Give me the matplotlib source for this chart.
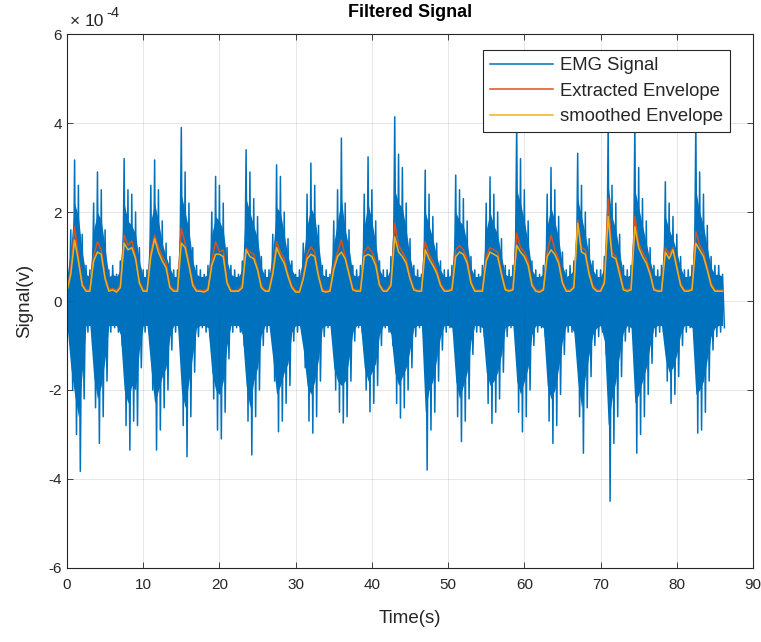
import numpy as np
import matplotlib.pyplot as plt
from matplotlib.ticker import FuncFormatter

plt.rcParams['font.family'] = ['Liberation Sans', 'DejaVu Sans']
plt.rcParams['axes.unicode_minus'] = False

# time grid of the binned record (s), 0.5 s per bin
t = np.arange(0, 86.01, 0.5)

# EMG extremes per bin (x1e-4 V)
emg_top = [
    0.6, 1.6, 3.17, 2.6, 1.5, 0.8, 0.7, 2.2, 2.9, 2.5,
    1.6, 0.7, 0.8, 0.6, 0.9, 3.2, 2.5, 2.4, 2.0, 1.2,
    0.7, 0.7, 2.6, 3.17, 2.5, 1.8, 1.3, 1.0, 0.7, 0.7,
    3.9, 2.9, 2.2, 1.2, 0.8, 0.7, 0.6, 0.8, 2.0, 2.8,
    2.6, 2.2, 1.2, 0.8, 0.7, 0.6, 0.9, 3.4, 2.9, 2.3,
    1.9, 1.0, 0.7, 0.7, 1.5, 3.06, 2.8, 2.0, 1.4, 0.9,
    0.6, 0.7, 1.3, 2.4, 3.1, 2.6, 1.7, 0.8, 0.7, 0.6,
    1.8, 2.5, 3.66, 2.2, 1.6, 0.8, 0.7, 0.8, 2.4, 3.24,
    2.5, 1.8, 0.9, 0.7, 0.7, 1.0, 4.14, 3.3, 3.0, 2.2,
    1.4, 0.8, 0.7, 0.6, 2.94, 2.4, 1.9, 1.3, 0.9, 0.7,
    0.7, 0.8, 2.83, 2.5, 2.3, 1.8, 1.0, 0.7, 0.6, 0.8,
    2.2, 2.79, 2.4, 2.0, 1.4, 0.8, 0.7, 0.8, 4.0, 3.2,
    2.5, 1.8, 0.9, 0.7, 0.6, 0.8, 2.4, 3.0, 2.5, 1.9,
    1.1, 0.7, 0.8, 0.9, 3.32, 2.6, 2.0, 1.4, 0.9, 0.7,
    0.7, 1.0, 4.0, 2.6, 2.2, 1.5, 0.8, 0.7, 0.8, 4.0,
    3.0, 2.3, 1.8, 1.2, 0.8, 0.7, 0.8, 2.68, 2.2, 1.9,
    1.5, 1.0, 0.7, 0.7, 0.8, 4.0, 2.9, 2.4, 1.7, 1.0,
    0.8, 0.8, 0.6]
emg_bottom = [
    -0.6, -2.0, -3.0, -3.83, -2.2, -0.7, -0.6, -2.4, -3.2, -2.6,
    -1.8, -0.7, -0.6, -0.7, -1.0, -2.8, -3.35, -2.7, -2.8, -1.5,
    -0.7, -0.6, -2.0, -3.35, -2.9, -2.4, -2.0, -1.1, -0.7, -0.6,
    -2.8, -3.5, -2.6, -1.6, -0.8, -0.6, -0.7, -0.8, -2.2, -2.9,
    -3.1, -2.5, -1.3, -0.7, -0.6, -0.7, -1.0, -2.7, -3.46, -2.6,
    -2.0, -1.0, -0.7, -0.6, -1.8, -2.94, -2.7, -2.3, -1.9, -0.9,
    -0.7, -0.6, -1.5, -2.7, -2.97, -2.6, -1.8, -0.8, -0.6, -0.7,
    -2.0, -2.5, -2.74, -2.6, -1.8, -0.9, -0.6, -0.7, -2.0, -2.49,
    -2.3, -1.9, -1.0, -0.6, -0.7, -1.0, -2.3, -2.63, -2.4, -2.0,
    -1.5, -0.8, -0.6, -0.7, -3.8, -2.9, -2.5, -1.8, -1.1, -0.7,
    -0.6, -0.8, -2.6, -3.16, -2.7, -2.2, -1.2, -0.7, -0.7, -0.8,
    -2.3, -2.75, -2.5, -2.2, -1.6, -0.8, -0.6, -0.7, -2.5, -2.94,
    -2.6, -2.0, -1.0, -0.7, -0.6, -0.8, -2.7, -3.2, -2.8, -2.1,
    -1.2, -0.7, -0.7, -0.9, -2.6, -3.42, -2.4, -1.7, -1.0, -0.8,
    -0.7, -1.2, -4.5, -3.2, -2.6, -1.7, -0.9, -0.7, -0.8, -3.42,
    -3.0, -2.6, -2.1, -1.4, -0.8, -0.7, -0.7, -1.8, -2.3, -2.1,
    -1.7, -1.0, -0.7, -0.6, -0.8, -2.97, -2.9, -2.5, -1.8, -1.1,
    -0.8, -0.7, -0.6]

# dense part of the trace per bin (x1e-4 V)
core_top = [
    0.55, 1.2, 2.2, 1.9, 1.1, 0.6, 0.55, 1.6, 2.0, 1.8,
    1.2, 0.55, 0.6, 0.55, 0.7, 2.2, 1.8, 1.7, 1.5, 0.9,
    0.55, 0.55, 1.8, 2.2, 1.8, 1.3, 1.0, 0.75, 0.55, 0.55,
    2.4, 2.0, 1.6, 0.9, 0.6, 0.55, 0.55, 0.6, 1.5, 1.9,
    1.8, 1.6, 0.9, 0.6, 0.55, 0.55, 0.7, 2.3, 2.0, 1.7,
    1.4, 0.75, 0.55, 0.55, 1.1, 2.1, 2.0, 1.5, 1.0, 0.7,
    0.55, 0.55, 1.0, 1.7, 2.1, 1.9, 1.3, 0.6, 0.55, 0.55,
    1.3, 1.8, 2.3, 1.6, 1.2, 0.6, 0.55, 0.6, 1.7, 2.2,
    1.8, 1.3, 0.7, 0.55, 0.55, 0.75, 2.5, 2.2, 2.1, 1.6,
    1.0, 0.6, 0.55, 0.55, 2.0, 1.7, 1.4, 1.0, 0.7, 0.55,
    0.55, 0.6, 2.0, 1.8, 1.7, 1.3, 0.75, 0.55, 0.55, 0.6,
    1.6, 2.0, 1.7, 1.5, 1.0, 0.6, 0.55, 0.6, 2.5, 2.2,
    1.8, 1.3, 0.7, 0.55, 0.55, 0.6, 1.7, 2.1, 1.8, 1.4,
    0.8, 0.55, 0.6, 0.7, 2.3, 1.9, 1.5, 1.0, 0.7, 0.55,
    0.55, 0.75, 2.6, 1.9, 1.6, 1.1, 0.6, 0.55, 0.6, 2.5,
    2.1, 1.7, 1.3, 0.9, 0.6, 0.55, 0.6, 1.9, 1.6, 1.4,
    1.1, 0.75, 0.55, 0.55, 0.6, 2.5, 2.0, 1.7, 1.2, 0.75,
    0.6, 0.6, 0.55]
core_bottom = [
    -0.55, -1.5, -2.1, -2.6, -1.6, -0.55, -0.55, -1.7, -2.2, -1.9,
    -1.3, -0.55, -0.55, -0.55, -0.75, -2.0, -2.3, -1.9, -2.0, -1.1,
    -0.55, -0.55, -1.5, -2.3, -2.0, -1.7, -1.5, -0.8, -0.55, -0.55,
    -2.0, -2.4, -1.8, -1.2, -0.6, -0.55, -0.55, -0.6, -1.6, -2.0,
    -2.1, -1.8, -1.0, -0.55, -0.55, -0.55, -0.75, -1.9, -2.4, -1.8,
    -1.5, -0.75, -0.55, -0.55, -1.3, -2.1, -1.9, -1.6, -1.4, -0.7,
    -0.55, -0.55, -1.1, -1.9, -2.1, -1.8, -1.3, -0.6, -0.55, -0.55,
    -1.5, -1.8, -1.9, -1.8, -1.3, -0.7, -0.55, -0.55, -1.5, -1.8,
    -1.6, -1.4, -0.75, -0.55, -0.55, -0.75, -1.6, -1.9, -1.7, -1.5,
    -1.1, -0.6, -0.55, -0.55, -2.5, -2.0, -1.8, -1.3, -0.8, -0.55,
    -0.55, -0.6, -1.8, -2.2, -1.9, -1.6, -0.9, -0.55, -0.55, -0.6,
    -1.6, -1.9, -1.8, -1.6, -1.2, -0.6, -0.55, -0.55, -1.8, -2.1,
    -1.8, -1.5, -0.75, -0.55, -0.55, -0.6, -1.9, -2.2, -2.0, -1.5,
    -0.9, -0.55, -0.55, -0.7, -1.8, -2.4, -1.7, -1.2, -0.75, -0.6,
    -0.55, -0.9, -2.8, -2.2, -1.8, -1.2, -0.7, -0.55, -0.6, -2.3,
    -2.1, -1.8, -1.5, -1.0, -0.6, -0.55, -0.55, -1.3, -1.6, -1.5,
    -1.2, -0.75, -0.55, -0.55, -0.6, -2.1, -2.0, -1.8, -1.3, -0.8,
    -0.6, -0.55, -0.55]

# envelopes (x1e-4 V)
env_extracted = [
    0.25, 0.7, 1.67, 1.0, 0.4, 0.25, 0.24, 1.0, 1.33, 1.15,
    0.55, 0.26, 0.28, 0.23, 0.35, 1.48, 1.25, 1.35, 1.0, 0.45,
    0.25, 0.24, 1.1, 1.48, 1.2, 1.0, 0.85, 0.35, 0.25, 0.24,
    1.64, 1.3, 0.85, 0.4, 0.25, 0.24, 0.23, 0.28, 0.9, 1.33,
    1.1, 1.15, 0.45, 0.25, 0.23, 0.25, 0.35, 1.19, 1.1, 1.05,
    0.75, 0.35, 0.24, 0.25, 0.7, 1.33, 1.1, 0.95, 0.6, 0.35,
    0.23, 0.22, 0.55, 1.05, 1.22, 1.1, 0.6, 0.25, 0.23, 0.25,
    0.8, 1.1, 1.37, 1.0, 0.65, 0.28, 0.24, 0.25, 1.1, 1.22,
    1.1, 0.9, 0.4, 0.24, 0.25, 0.4, 1.75, 1.25, 1.1, 0.95,
    0.55, 0.28, 0.24, 0.25, 1.33, 1.05, 0.9, 0.7, 0.4, 0.25,
    0.24, 0.28, 1.15, 1.25, 1.15, 0.95, 0.45, 0.25, 0.24, 0.25,
    1.0, 1.2, 1.15, 1.1, 0.65, 0.28, 0.24, 0.28, 1.53, 1.2,
    1.1, 0.9, 0.4, 0.25, 0.23, 0.28, 1.1, 1.48, 1.15, 0.95,
    0.45, 0.25, 0.24, 0.35, 1.82, 1.2, 1.15, 0.65, 0.35, 0.25,
    0.24, 0.45, 2.3, 1.1, 1.0, 0.7, 0.28, 0.25, 0.28, 1.9,
    1.3, 1.1, 0.95, 0.65, 0.28, 0.24, 0.25, 1.2, 1.05, 1.2,
    0.8, 0.4, 0.25, 0.24, 0.28, 1.56, 1.25, 1.1, 0.75, 0.4,
    0.25, 0.24, 0.25]
env_smoothed = [
    0.22, 0.6, 1.37, 0.9, 0.35, 0.22, 0.22, 0.9, 1.1, 1.05,
    0.5, 0.22, 0.25, 0.2, 0.3, 1.3, 1.15, 1.2, 0.95, 0.4,
    0.22, 0.22, 1.0, 1.4, 1.1, 0.9, 0.75, 0.3, 0.22, 0.22,
    1.3, 1.2, 0.8, 0.35, 0.22, 0.22, 0.2, 0.25, 0.8, 1.05,
    1.05, 1.0, 0.4, 0.22, 0.22, 0.22, 0.3, 1.15, 1.0, 0.95,
    0.7, 0.3, 0.22, 0.22, 0.6, 1.2, 1.0, 0.85, 0.55, 0.3,
    0.2, 0.2, 0.5, 0.95, 1.05, 1.0, 0.55, 0.22, 0.2, 0.22,
    0.7, 1.0, 1.1, 0.95, 0.6, 0.25, 0.22, 0.22, 1.0, 1.05,
    1.0, 0.8, 0.35, 0.22, 0.22, 0.35, 1.44, 1.1, 1.0, 0.85,
    0.5, 0.25, 0.22, 0.22, 1.15, 0.95, 0.8, 0.63, 0.35, 0.22,
    0.22, 0.25, 1.0, 1.1, 1.05, 0.85, 0.4, 0.22, 0.22, 0.22,
    0.9, 1.1, 1.05, 1.0, 0.6, 0.25, 0.22, 0.25, 1.25, 1.1,
    1.0, 0.8, 0.35, 0.22, 0.2, 0.25, 1.0, 1.15, 1.05, 0.85,
    0.4, 0.22, 0.22, 0.3, 1.75, 1.1, 1.05, 0.6, 0.3, 0.22,
    0.22, 0.4, 1.9, 1.0, 0.95, 0.6, 0.25, 0.22, 0.25, 1.67,
    1.2, 1.0, 0.85, 0.6, 0.25, 0.22, 0.22, 1.1, 0.95, 1.15,
    0.75, 0.35, 0.22, 0.22, 0.25, 1.3, 1.15, 1.0, 0.7, 0.35,
    0.22, 0.22, 0.22]

scale = 1e-4
blue = '#0072BD'
ink = '#262626'

fig = plt.figure(figsize=(7.61, 6.42), dpi=100)
ax = fig.add_axes([0.088, 0.1153, 0.9015, 0.8317])

# EMG trace: alternate between the upper and lower extreme of each bin
tz = np.empty(2 * len(t))
yz = np.empty(2 * len(t))
tz[0::2] = t
tz[1::2] = t + 0.25
yz[0::2] = np.array(emg_top) * scale
yz[1::2] = np.array(emg_bottom) * scale
ax.fill_between(t, np.array(core_bottom) * scale, np.array(core_top) * scale,
                color=blue, lw=0)
ax.plot(tz, yz, color=blue, lw=1.1, label='EMG Signal')
ax.plot(t, np.array(env_extracted) * scale, color='#D95319', lw=1.1,
        label='Extracted Envelope')
ax.plot(t, np.array(env_smoothed) * scale, color='#EDB120', lw=1.1,
        label='smoothed Envelope')

ax.set_xlim(0, 90)
ax.set_ylim(-6e-4, 6e-4)
ax.set_xticks(range(0, 91, 10))
ax.set_yticks(np.arange(-6, 7, 2) * scale)
ax.yaxis.set_major_formatter(FuncFormatter(lambda v, _: f'{v / scale:.0f}'))

ax.grid(True, color=ink, alpha=0.13, lw=0.6)
ax.tick_params(direction='in', top=True, right=True, colors=ink,
               length=4, width=0.6, labelsize=11)
ax.tick_params(axis='x', pad=7)
for s in ax.spines.values():
    s.set_color(ink)
    s.set_linewidth(0.8)

# exponent label above the y axis
ax.text(0.004, 1.010, '×', transform=ax.transAxes, fontsize=12.5,
        color=ink, va='bottom', ha='left')
ax.text(0.026, 1.010, '10', transform=ax.transAxes, fontsize=12.5,
        color=ink, va='bottom', ha='left')
ax.text(0.058, 1.026, '-4', transform=ax.transAxes, fontsize=10.5,
        color=ink, va='bottom', ha='left')

ax.set_xlabel('Time(s)', fontsize=13.5, color=ink, labelpad=13)
ax.set_ylabel('Signal(v)', fontsize=13.5, color=ink, labelpad=11)
ax.set_title('Filtered Signal', fontsize=13, fontweight='bold', pad=12)

leg = ax.legend(loc='upper right', bbox_to_anchor=(0.9665, 0.970),
                borderaxespad=0, fontsize=13.3, fancybox=False,
                framealpha=1, edgecolor=ink, handlelength=3.4,
                borderpad=0.4, labelspacing=0.45, handletextpad=0.35)
leg.get_frame().set_linewidth(0.8)
for txt in leg.get_texts():
    txt.set_color(ink)

fig.savefig('out.png', dpi=100)
